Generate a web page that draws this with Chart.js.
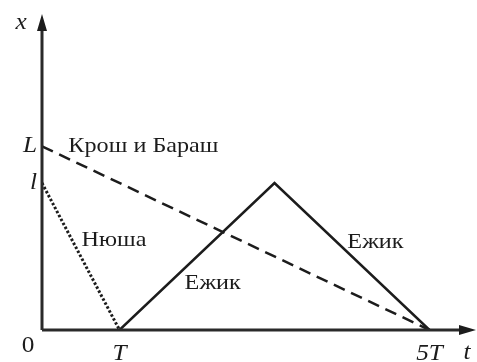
<!DOCTYPE html>
<html>
<head>
<meta charset="utf-8">
<script src="https://cdn.jsdelivr.net/npm/chart.js@4"></script>
<style>
  html, body { margin: 0; padding: 0; background: #fff; }
  #wrap { width: 477px; height: 362px; }
</style>
</head>
<body>
<div id="wrap"><canvas id="chart"></canvas></div>
<script>
// time in units of T, distance in arbitrary units (l = 4, L = 5)
const kroshT = [0, 5];
const kroshX = [5, 0];
const nyushaT = [0, 1];
const nyushaX = [4, 0];
const ezhikT = [1, 3, 5];
const ezhikX = [0, 4, 0];

const xTickValues = [1, 5];
const xTickLabels = ['T', '5T'];
const yTickValues = [5, 4];
const yTickLabels = ['L', 'l'];

const seriesNames = ['Крош и Бараш', 'Нюша', 'Ежик', 'Ежик'];
const namePlaces = [[0.34, 5.0], [0.51, 2.43], [1.84, 1.28], [3.94, 2.4]];

const INK = '#1c1c1c';
const SERIF = '"Liberation Serif", "DejaVu Serif", serif';

function points(ts, xs) {
  return ts.map((t, i) => ({ x: t, y: xs[i] }));
}

function lineDataset(label, data, dash, width) {
  return {
    label,
    data,
    showLine: true,
    borderColor: INK,
    borderWidth: width,
    borderDash: dash,
    pointRadius: 0,
    tension: 0,
    fill: false
  };
}

// the scan is a bit wider than the font, so stretch text sideways
function wideText(ctx, text, x, y, align) {
  const k = 1.1;
  const w = ctx.measureText(text).width * k;
  let left = x;
  if (align === 'center') left = x - w / 2;
  if (align === 'right') left = x - w;
  ctx.save();
  ctx.textAlign = 'left';
  ctx.translate(left, y);
  ctx.scale(k, 1);
  ctx.fillText(text, 0, 0);
  ctx.restore();
}

// axes with arrows, tick labels and series names
const sketchPlugin = {
  id: 'sketch',
  afterDatasetsDraw(chart) {
    const { ctx, chartArea, scales } = chart;
    const x0 = scales.x.getPixelForValue(0);
    const y0 = scales.y.getPixelForValue(0);
    ctx.save();
    ctx.strokeStyle = '#2a2a2a';
    ctx.fillStyle = INK;
    ctx.lineWidth = 3;
    ctx.beginPath();
    ctx.moveTo(x0, y0);
    ctx.lineTo(chartArea.right - 10, y0);
    ctx.moveTo(x0, y0);
    ctx.lineTo(x0, chartArea.top + 10);
    ctx.stroke();

    ctx.beginPath();
    ctx.moveTo(chartArea.right, y0);
    ctx.lineTo(chartArea.right - 17, y0 - 5);
    ctx.lineTo(chartArea.right - 17, y0 + 5);
    ctx.closePath();
    ctx.moveTo(x0, chartArea.top);
    ctx.lineTo(x0 - 5, chartArea.top + 17);
    ctx.lineTo(x0 + 5, chartArea.top + 17);
    ctx.closePath();
    ctx.fill();

    ctx.textBaseline = 'middle';
    ctx.font = 'italic 23px ' + SERIF;
    xTickLabels.forEach((lab, i) => {
      wideText(ctx, lab, scales.x.getPixelForValue(xTickValues[i]), y0 + 24, 'center');
    });
    yTickLabels.forEach((lab, i) => {
      wideText(ctx, lab, x0 - 5, scales.y.getPixelForValue(yTickValues[i]), 'right');
    });
    wideText(ctx, 'x', x0 - 21, chartArea.top + 9, 'center');
    wideText(ctx, 't', chartArea.right - 9, y0 + 23, 'center');
    ctx.font = '23px ' + SERIF;
    wideText(ctx, '0', x0 - 14, y0 + 16, 'center');

    ctx.font = '22px ' + SERIF;
    seriesNames.forEach((name, i) => {
      const [t, x] = namePlaces[i];
      wideText(ctx, name, scales.x.getPixelForValue(t), scales.y.getPixelForValue(x), 'left');
    });
    ctx.restore();
  }
};

new Chart(document.getElementById('chart'), {
  type: 'scatter',
  data: {
    datasets: [
      lineDataset(seriesNames[0], points(kroshT, kroshX), [12, 7], 2.5),
      lineDataset(seriesNames[1], points(nyushaT, nyushaX), [2.5, 2], 3),
      lineDataset(seriesNames[2], points(ezhikT, ezhikX), [], 2.5)
    ]
  },
  options: {
    responsive: true,
    maintainAspectRatio: false,
    animation: false,
    layout: { padding: { left: 42, top: 14, right: 1, bottom: 32 } },
    plugins: { legend: { display: false }, tooltip: { enabled: false } },
    scales: {
      x: { type: 'linear', min: 0, max: 5.6, display: false },
      y: { type: 'linear', min: 0, max: 8.6, display: false }
    }
  },
  plugins: [sketchPlugin]
});
</script>
</body>
</html>
